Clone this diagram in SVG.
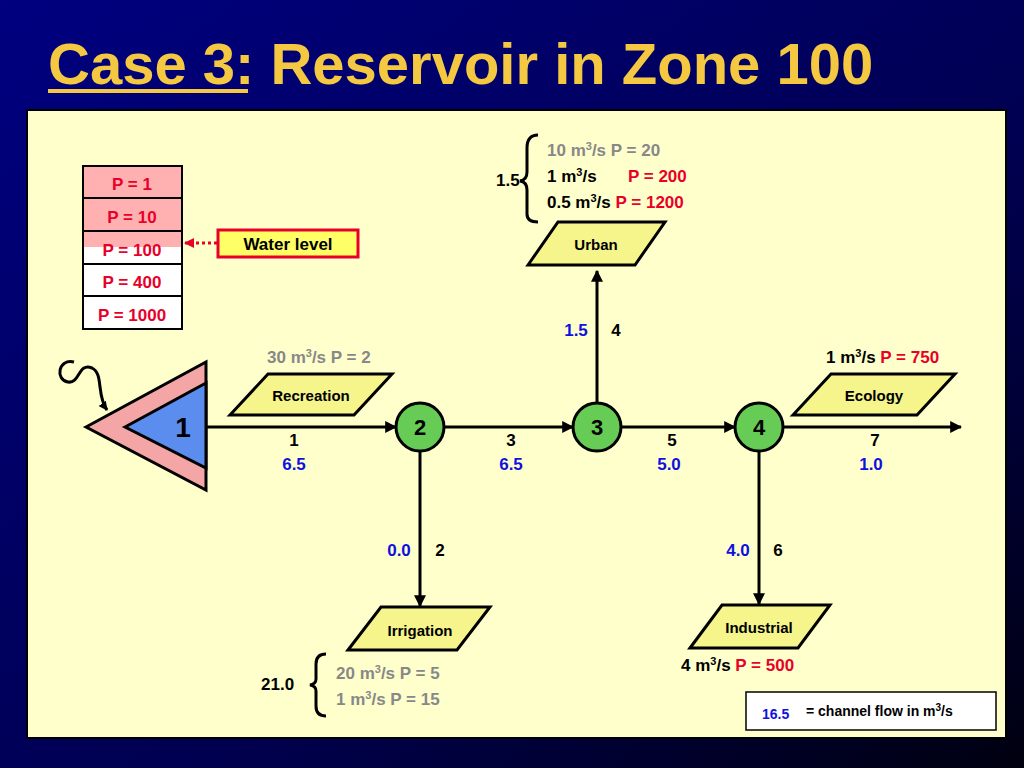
<svg xmlns="http://www.w3.org/2000/svg" width="1024" height="768" viewBox="0 0 1024 768">
<defs>
<linearGradient id="bg" x1="0" y1="0" x2="1" y2="1"><stop offset="0" stop-color="#000080"/><stop offset="0.6" stop-color="#000050"/><stop offset="1" stop-color="#000010"/></linearGradient>
<marker id="ar" viewBox="0 0 10 10" refX="9" refY="5" markerWidth="9" markerHeight="9" markerUnits="userSpaceOnUse" orient="auto"><path d="M0,0L10,5L0,10z" fill="#000"/></marker>
<marker id="ar2" viewBox="0 0 10 10" refX="9" refY="5" markerWidth="12" markerHeight="12" markerUnits="userSpaceOnUse" orient="auto"><path d="M0,0L10,5L0,10z" fill="#000"/></marker>
<marker id="arr" viewBox="0 0 10 10" refX="9" refY="5" markerWidth="10" markerHeight="10" markerUnits="userSpaceOnUse" orient="auto"><path d="M0,0L10,5L0,10z" fill="#E8002A"/></marker>
</defs>
<style>
text{font-family:"Liberation Sans",Arial,sans-serif;font-weight:bold}
.t{font-size:17px}
.g{fill:#888}
.r{fill:#E8002A}
.b{fill:#1010E0}
.k{fill:#000}
.para{fill:#F5F58C;stroke:#000;stroke-width:3}
.node{fill:#66CC55;stroke:#000;stroke-width:3}
.ln{stroke:#000;stroke-width:3;fill:none}
.lg{stroke:#000;stroke-width:2}
</style>
<rect width="1024" height="768" fill="url(#bg)"/>
<text x="48" y="84" font-size="58" fill="#F5C842">Case 3: Reservoir in Zone 100</text>
<rect x="48" y="89" width="200" height="4" fill="#F5C842"/>
<rect x="27" y="110" width="979" height="628" fill="#FFFFCC" stroke="#000" stroke-width="2"/>

<g id="legend">
<rect x="83" y="166" width="99" height="163" fill="#fff" class="lg"/>
<rect x="83" y="166" width="99" height="81" fill="#FFB0B0"/>
<rect x="83" y="166" width="99" height="163" fill="none" class="lg"/>
<line x1="83" y1="198" x2="182" y2="198" class="lg"/>
<line x1="83" y1="231" x2="182" y2="231" class="lg"/>
<line x1="83" y1="264" x2="182" y2="264" class="lg"/>
<line x1="83" y1="296" x2="182" y2="296" class="lg"/>
<g class="t r" text-anchor="middle">
<text x="132" y="190" class="r">P = 1</text><text x="132" y="223" class="r">P = 10</text><text x="132" y="256" class="r">P = 100</text><text x="132" y="288" class="r">P = 400</text><text x="132" y="321" class="r">P = 1000</text>
</g>
</g>
<g id="waterlevel">
<line x1="217" y1="243" x2="185" y2="243" stroke="#E8002A" stroke-width="3" stroke-dasharray="3,3" marker-end="url(#arr)"/>
<rect x="218" y="230" width="140" height="27" fill="#FFFF66" stroke="#E8002A" stroke-width="3"/>
<text x="288" y="250" text-anchor="middle" class="t k">Water level</text>
</g>

<g id="reservoir">
<polygon points="86,427 206,362 206,490" fill="#F4A6A6" stroke="#000" stroke-width="3"/>
<polygon points="125,427 206,383 206,468" fill="#5B8DEF" stroke="#000" stroke-width="3"/>
<text x="183" y="437" font-size="28" text-anchor="middle" class="k">1</text>
<path d="M74,362 C58,358 55,380 68,382 C80,384 78,362 92,368 C104,374 96,395 107,410" class="ln" stroke-width="2" marker-end="url(#ar)"/>
</g>

<g id="connectors">
<line x1="207" y1="427" x2="396" y2="427" class="ln" marker-end="url(#ar2)"/>
<line x1="444" y1="427" x2="573" y2="427" class="ln" marker-end="url(#ar2)"/>
<line x1="621" y1="427" x2="735" y2="427" class="ln" marker-end="url(#ar2)"/>
<line x1="783" y1="427" x2="961" y2="427" class="ln" marker-end="url(#ar2)"/>
<line x1="597" y1="403" x2="597" y2="271" class="ln" marker-end="url(#ar2)"/>
<line x1="420" y1="451" x2="420" y2="606" class="ln" marker-end="url(#ar2)"/>
<line x1="759" y1="451" x2="759" y2="604" class="ln" marker-end="url(#ar2)"/>
</g>

<g id="n2"><circle cx="420" cy="427" r="24" class="node"/><text x="420" y="435" font-size="22" text-anchor="middle" class="k">2</text></g>
<g id="n3"><circle cx="597" cy="427" r="24" class="node"/><text x="597" y="435" font-size="22" text-anchor="middle" class="k">3</text></g>
<g id="n4"><circle cx="759" cy="427" r="24" class="node"/><text x="759" y="435" font-size="22" text-anchor="middle" class="k">4</text></g>

<g id="recreation"><polygon points="230,415 268,374 392,374 354,415" class="para"/><text x="311" y="401" font-size="15" text-anchor="middle" class="k">Recreation</text></g>
<g id="ecology"><polygon points="793,415 831,374 955,374 917,415" class="para"/><text x="874" y="401" font-size="15" text-anchor="middle" class="k">Ecology</text></g>
<g id="urban"><polygon points="528,265 558,222 665,222 635,265" class="para"/><text x="596" y="250" font-size="15" text-anchor="middle" class="k">Urban</text></g>
<g id="irrigation"><polygon points="348,650 381,607 490,607 457,650" class="para"/><text x="420" y="636" font-size="15" text-anchor="middle" class="k">Irrigation</text></g>
<g id="industrial"><polygon points="690,648 722,605 830,605 798,648" class="para"/><text x="759" y="633" font-size="15" text-anchor="middle" class="k">Industrial</text></g>

<g id="labels" class="t">
<text x="267" y="363" class="g">30 m<tspan font-size="11" dy="-6">3</tspan><tspan dy="6">/s  P = 2</tspan></text>
<text x="826" y="363" class="k">1 m<tspan font-size="11" dy="-6">3</tspan><tspan dy="6">/s  </tspan><tspan class="r">P = 750</tspan></text>
<text x="294" y="446" text-anchor="middle" class="k">1</text><text x="294" y="470" text-anchor="middle" class="b">6.5</text>
<text x="511" y="446" text-anchor="middle" class="k">3</text><text x="511" y="470" text-anchor="middle" class="b">6.5</text>
<text x="672" y="446" text-anchor="middle" class="k">5</text><text x="669" y="470" text-anchor="middle" class="b">5.0</text>
<text x="875" y="446" text-anchor="middle" class="k">7</text><text x="871" y="470" text-anchor="middle" class="b">1.0</text>
<text x="576" y="336" text-anchor="middle" class="b">1.5</text><text x="616" y="336" text-anchor="middle" class="k">4</text>
<text x="399" y="556" text-anchor="middle" class="b">0.0</text><text x="440" y="556" text-anchor="middle" class="k">2</text>
<text x="738" y="556" text-anchor="middle" class="b">4.0</text><text x="778" y="556" text-anchor="middle" class="k">6</text>
<text x="496" y="186" class="k">1.5</text>
<path d="M538,135 Q527,135 527,148 L527,172 Q527,180 520,181 Q527,182 527,190 L527,214 Q527,222 538,222" class="ln" stroke-width="2"/>
<text x="547" y="156" class="g">10 m<tspan font-size="11" dy="-6">3</tspan><tspan dy="6">/s  P = 20</tspan></text>
<text x="547" y="182" class="k">1 m<tspan font-size="11" dy="-6">3</tspan><tspan dy="6">/s</tspan></text><text x="628" y="182" class="r">P = 200</text>
<text x="547" y="208" class="k">0.5 m<tspan font-size="11" dy="-6">3</tspan><tspan dy="6">/s </tspan><tspan class="r">P = 1200</tspan></text>
<text x="261" y="690" class="k">21.0</text>
<path d="M326,654 Q316,654 316,664 L316,679 Q316,684 310,685 Q316,686 316,691 L316,706 Q316,716 326,716" class="ln" stroke-width="2"/>
<text x="336" y="679" class="g">20 m<tspan font-size="11" dy="-6">3</tspan><tspan dy="6">/s  P = 5</tspan></text>
<text x="336" y="705" class="g">1 m<tspan font-size="11" dy="-6">3</tspan><tspan dy="6">/s    P = 15</tspan></text>
<text x="681" y="671" class="k">4 m<tspan font-size="11" dy="-6">3</tspan><tspan dy="6">/s  </tspan><tspan class="r">P = 500</tspan></text>
</g>
<g id="key">
<rect x="746" y="692" width="250" height="38" fill="#fff" stroke="#000" stroke-width="1.5"/>
<text x="762" y="719" font-size="14" class="b">16.5</text>
<text x="806" y="716" font-size="14" class="k">= channel flow in m<tspan font-size="10" dy="-5">3</tspan><tspan dy="5">/s</tspan></text>
</g>
</svg>
